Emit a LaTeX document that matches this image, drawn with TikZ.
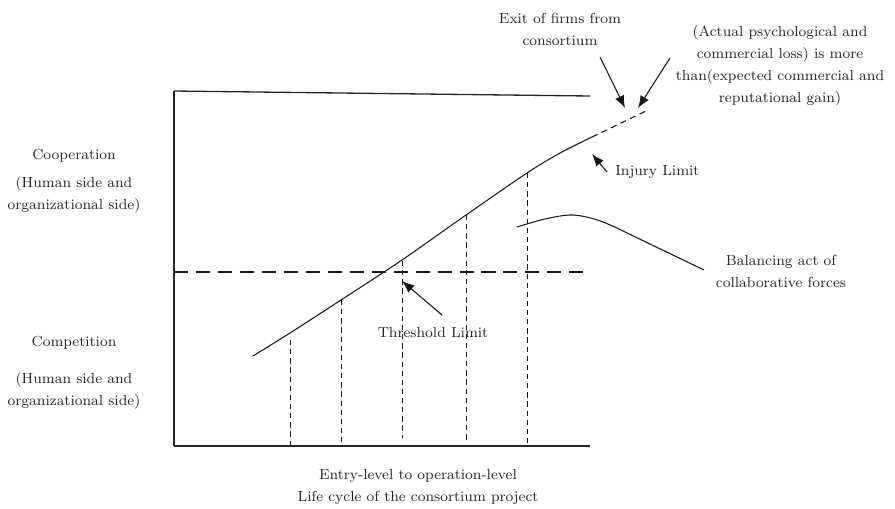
\documentclass[tikz,border=0pt]{standalone}
\usepackage{tikz}
\usetikzlibrary{arrows.meta,calc}

\begin{document}
\begin{tikzpicture}[x=0.02cm,y=-0.02cm,
  lbl/.style={align=center,font=\fontsize{8.3}{12.5}\selectfont,text=black!85,inner sep=0pt},
  axisline/.style={line width=0.75pt,draw=black!85},
  curveline/.style={line width=0.6pt,draw=black!90},
  guide/.style={line width=0.5pt,dash pattern=on 3pt off 2.2pt,draw=black!90},
  limitline/.style={line width=1.6pt,dash pattern=on 8pt off 4.5pt,draw=black!90},
  pointer/.style={-{Latex[length=7pt,width=5.5pt]},line width=0.6pt,draw=black!90}]

  \useasboundingbox (0,0) rectangle (895,508);

  % frame
  \coordinate (top0) at (174,91);
  \coordinate (top1) at (590,96);
  \coordinate (bot0) at (174,446);
  \coordinate (bot1) at (590,446);
  \draw[axisline] (top0) -- (bot0);
  \draw[axisline] (top0) -- (top1);
  \draw[axisline] (bot0) -- (bot1);

  % threshold limit
  \coordinate (thr0) at (174,272);
  \coordinate (thr1) at (590,272);
  \draw[limitline] (thr0) -- (thr1);

  % vertical guides
  \foreach \gx/\gy/\gb in {290/340/445, 341/300/445, 402/261/438, 466/215/442, 527/173/443}{
    \draw[guide] (\gx,\gy) -- (\gx,\gb);
  }

  % cooperation curve
  \draw[curveline] plot[smooth] coordinates {(253,356) (290,333) (341,300) (402,260) (466,215) (527,173) (560,153) (592,137)};
  \coordinate (inj) at (592,137);
  \coordinate (exitpt) at (648,110);
  \draw[curveline,dash pattern=on 3.5pt off 2.5pt] (inj) -- (exitpt);

  % balancing act
  \draw[curveline] plot[smooth] coordinates {(517,227) (545,219) (573,215) (603,222) (652,245) (704,270)};

  % labels
  \node[lbl] (coop) at (74,156) {Cooperation};
  \node[lbl] (coopside) at (74,195) {(Human side and\\organizational side)};
  \node[lbl] (comp) at (74,343) {Competition};
  \node[lbl] (compside) at (74,391) {(Human side and\\organizational side)};
  \node[lbl] (xlabel) at (418,487) {Entry-level to operation-level\\Life cycle of the consortium project};
  \node[lbl] (exit) at (560,29) {Exit of firms from\\consortium};
  \node[lbl] (loss) at (780,66) {(Actual psychological and\\commercial loss) is more\\than(expected commercial and\\reputational gain)};
  \node[lbl,anchor=west] (injury) at (615,172) {Injury Limit};
  \node[lbl] (balance) at (781,271) {Balancing act of\\collaborative forces};
  \node[lbl] (threshold) at (433,333) {Threshold Limit};

  % pointers
  \coordinate (exittail) at (600,57);
  \coordinate (exithead) at (625,108);
  \coordinate (losstail) at (670,58);
  \coordinate (losshead) at (638,108);
  \coordinate (injtail) at (607,172);
  \coordinate (injhead) at (592,154);
  \coordinate (thrtail) at (442,315);
  \coordinate (thrhead) at (402,281);
  \draw[pointer] (exittail) -- (exithead);
  \draw[pointer] (losstail) -- (losshead);
  \draw[pointer] (injtail) -- (injhead);
  \draw[pointer] (thrtail) -- (thrhead);

\end{tikzpicture}
\end{document}
